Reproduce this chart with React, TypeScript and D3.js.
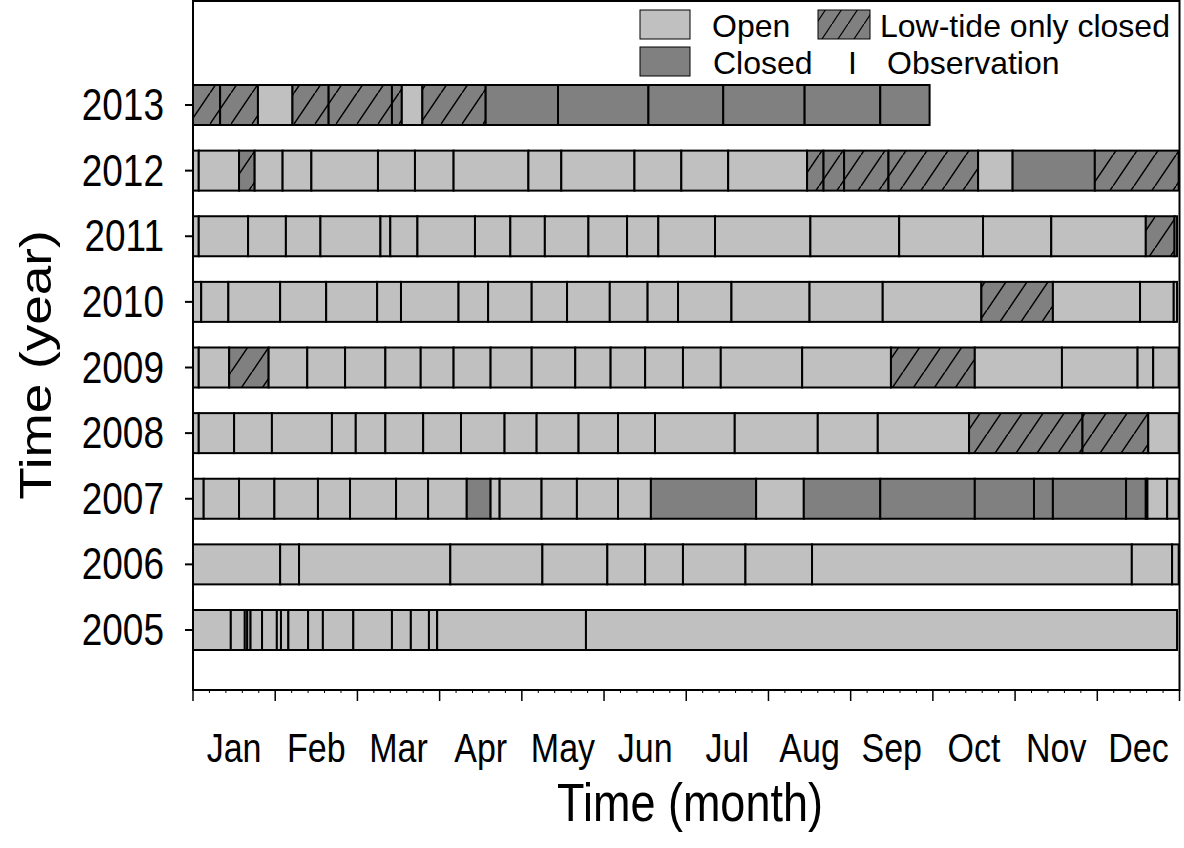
import * as d3 from 'd3';
import type { ReactNode } from 'react';

const W = 1184;
const H = 848;

const months = ['Jan', 'Feb', 'Mar', 'Apr', 'May', 'Jun', 'Jul', 'Aug', 'Sep', 'Oct', 'Nov', 'Dec'];
const years = [2013, 2012, 2011, 2010, 2009, 2008, 2007, 2006, 2005];

// segment boundaries in months from 1 Jan, and the state of each segment
// O = open, L = low-tide only closed, C = closed
const b2013 = [0, 0.33, 0.79, 1.21, 1.65, 2.42, 2.54, 2.79, 3.56, 4.44, 5.54, 6.45, 7.44, 8.36, 8.96];
const s2013 = 'LLOLLLOLCCCCCC';
const b2012 = [0, 0.07, 0.56, 0.75, 1.09, 1.44, 2.25, 2.7, 3.17, 4.08, 4.48, 5.37, 5.94, 6.51, 7.47, 7.67, 7.92, 8.46, 9.55, 9.97, 10.97, 11.99];
const s2012 = 'OOLOOOOOOOOOOOLLLLOCL';
const b2011 = [0, 0.07, 0.67, 1.13, 1.55, 2.28, 2.4, 2.73, 3.43, 3.86, 4.28, 4.81, 5.28, 5.66, 6.35, 7.51, 8.59, 9.61, 10.44, 11.59, 11.94, 11.97];
const s2011 = 'OOOOOOOOOOOOOOOOOOOLO';
const b2010 = [0, 0.1, 0.43, 1.06, 1.62, 2.24, 2.53, 3.23, 3.59, 4.12, 4.55, 5.07, 5.53, 5.9, 6.55, 7.5, 8.39, 9.59, 10.46, 11.52, 11.93, 11.97];
const s2010 = 'OOOOOOOOOOOOOOOOOLOOO';
const b2009 = [0, 0.07, 0.44, 0.92, 1.39, 1.85, 2.34, 2.77, 3.17, 3.62, 4.12, 4.65, 5.08, 5.5, 5.96, 6.42, 7.41, 8.49, 9.51, 10.57, 11.49, 11.68, 11.99];
const s2009 = 'OOLOOOOOOOOOOOOOOLOOOO';
const b2008 = [0, 0.07, 0.5, 0.96, 1.69, 1.98, 2.34, 2.8, 3.26, 3.79, 4.18, 4.69, 5.17, 5.62, 6.59, 7.6, 8.33, 9.44, 10.82, 11.62, 11.99];
const s2008 = 'OOOOOOOOOOOOOOOOOLLO';
const b2007 = [0, 0.13, 0.56, 0.99, 1.52, 1.91, 2.47, 2.86, 3.33, 3.62, 3.73, 4.24, 4.67, 5.17, 5.57, 6.85, 7.43, 8.36, 9.51, 10.23, 10.46, 11.35, 11.59, 11.61, 11.85, 11.99];
const s2007 = 'OOOOOOOOCOOOOOCOCCCCCCOOO';
const b2006 = [0, 1.06, 1.29, 3.13, 4.25, 5.04, 5.5, 5.96, 6.72, 7.53, 11.42, 11.91, 11.99];
const s2006 = 'OOOOOOOOOOOO';
const b2005 = [0, 0.46, 0.63, 0.66, 0.7, 0.84, 1.02, 1.07, 1.16, 1.4, 1.58, 1.95, 2.42, 2.65, 2.87, 2.97, 4.78, 11.97];
const s2005 = 'OOOOOOOOOOOOOOOOO';

const breaks: Record<number, number[]> = {
  2013: b2013, 2012: b2012, 2011: b2011, 2010: b2010, 2009: b2009,
  2008: b2008, 2007: b2007, 2006: b2006, 2005: b2005,
};
const states: Record<number, string> = {
  2013: s2013, 2012: s2012, 2011: s2011, 2010: s2010, 2009: s2009,
  2008: s2008, 2007: s2007, 2006: s2006, 2005: s2005,
};

const fills: Record<string, string> = { O: '#c0c0c0', C: '#808080', L: 'url(#hatch)' };

const FONT = '"Liberation Sans", Arial, sans-serif';
// axis text in the original figure is stretched vertically
const STRETCH = 1.18;

function T(props: { x: number; y: number; size: number; anchor?: string; rotate?: boolean; k?: number; children: ReactNode }) {
  const { x, y, size, anchor = 'start', rotate = false, k = STRETCH, children } = props;
  const tf = `translate(${x},${y}) scale(1,${k})${rotate ? ' rotate(-90)' : ''}`;
  return (
    <text transform={tf} fontSize={size} textAnchor={anchor}>{children}</text>
  );
}

export default function App() {
  const x = d3.scaleLinear().domain([0, 12]).range([193, 1179.5]);
  const y = d3.scaleLinear().domain([2005, 2013]).range([630, 105]);
  const top = 1;
  const bottom = 690;
  const barH = 40;

  const segs = years.flatMap(yr => {
    const b = breaks[yr];
    return states[yr].split('').map((s, i) => ({ yr, s, x0: b[i], x1: b[i + 1] }));
  });

  const minor = d3.range(0, 60).map(i => i / 5).filter(v => Math.abs(v - Math.round(v)) > 1e-6);

  return (
    <svg width={W} height={H} style={{ position: 'absolute', left: 0, top: 0, background: '#fff' }} fontFamily={FONT}>
      <defs>
        <pattern id="hatch" patternUnits="userSpaceOnUse" width={21} height={31}>
          <rect width={21} height={31} fill="#808080" />
          <path d="M0,31 L21,0 M-2,2 L1,-2 M20,33 L23,29" stroke="#000" strokeWidth={1.5} />
        </pattern>
        <pattern id="hatchLeg" patternUnits="userSpaceOnUse" width={16} height={24}>
          <rect width={16} height={24} fill="#808080" />
          <path d="M0,24 L16,0 M-2,2 L1,-2 M15,26 L18,22" stroke="#000" strokeWidth={1.2} />
        </pattern>
      </defs>

      {/* bars */}
      {segs.map((d, i) => (
        <rect
          key={i}
          x={x(d.x0)}
          y={y(d.yr) - barH / 2}
          width={x(d.x1) - x(d.x0)}
          height={barH}
          fill={fills[d.s]}
          stroke="#000"
          strokeWidth={2}
        />
      ))}

      {/* frame */}
      <rect x={x(0)} y={top} width={x(12) - x(0)} height={bottom - top} fill="none" stroke="#000" strokeWidth={2} />

      {/* y axis */}
      {years.map(yr => (
        <g key={yr}>
          <line x1={x(0) - 8} x2={x(0)} y1={y(yr)} y2={y(yr)} stroke="#000" strokeWidth={2} />
          <T x={164} y={y(yr) + 15} size={37} anchor="end">{yr}</T>
        </g>
      ))}

      {/* x axis */}
      {d3.range(0, 13).map(m => (
        <line key={m} x1={x(m)} x2={x(m)} y1={bottom} y2={bottom + 11} stroke="#000" strokeWidth={1.5} />
      ))}
      {minor.map((m, i) => (
        <line key={'n' + i} x1={x(m)} x2={x(m)} y1={bottom} y2={bottom + 3} stroke="#000" strokeWidth={1} />
      ))}
      {months.map((m, i) => (
        <T key={m} x={x(i + 0.5)} y={762} size={34} anchor="middle">{m}</T>
      ))}

      <T x={690} y={821} size={45} anchor="middle">Time (month)</T>
      <T x={51} y={365} size={45} anchor="middle" rotate>Time (year)</T>

      {/* legend */}
      <rect x={640} y={10} width={50} height={29} fill="#c0c0c0" stroke="#000" strokeWidth={1} />
      <T x={712} y={37} size={32} k={1}>Open</T>
      <rect x={818} y={10} width={52} height={29} fill="url(#hatchLeg)" stroke="#000" strokeWidth={1} />
      <T x={880} y={37} size={32} k={1}>Low-tide only closed</T>
      <rect x={640} y={47} width={50} height={29} fill="#808080" stroke="#000" strokeWidth={1} />
      <T x={713} y={74} size={32} k={1}>Closed</T>
      <T x={848} y={74} size={32} k={1}>I</T>
      <T x={887} y={74} size={32} k={1}>Observation</T>
    </svg>
  );
}
